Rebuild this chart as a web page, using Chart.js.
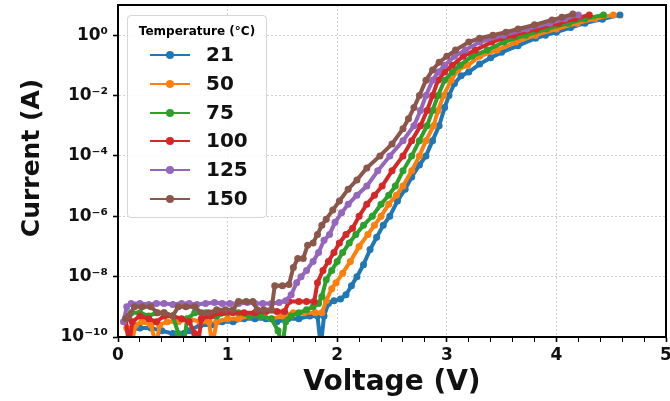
<!DOCTYPE html>
<html>
<head>
<meta charset="utf-8">
<script src="https://cdn.jsdelivr.net/npm/chart.js@4.4.0/dist/chart.umd.min.js"></script>
<style>
  html, body { margin: 0; padding: 0; background: #fff; }
  #wrap { position: relative; width: 670px; height: 401px; font-family: "DejaVu Sans", sans-serif; }
  #legend { position: absolute; left: 127px; top: 15px; width: 140px; height: 203px; border: 1px solid #d6d6d6;
            border-radius: 4px; background: rgba(255,255,255,0.85); box-sizing: border-box; }
  #legend .title { position: absolute; left: 0; width: 100%; top: 8px; text-align: center; font-weight: bold; font-size: 12px; }
  .row { position: absolute; left: 0; width: 100%; height: 20px; }
  .row .ln { position: absolute; left: 22px; width: 40px; top: 9px; height: 2px; }
  .row .dot { position: absolute; left: 38px; top: 6px; width: 8px; height: 8px; border-radius: 50%; }
  .row .lbl { position: absolute; left: 78px; top: -3px; font-weight: bold; font-size: 20px; color: #111; }
</style>
</head>
<body>
<div id="wrap">
  <canvas id="ivChart" width="670" height="401"></canvas>
  <div id="legend"><div class="title">Temperature (°C)</div></div>
</div>
<script>
'use strict';

const temperatures = ['21', '50', '75', '100', '125', '150'];
const colors = ['#1f77b4', '#ff7f0e', '#2ca02c', '#d62728', '#9467bd', '#8c564b'];

const yTickPowers = [-10, -8, -6, -4, -2, 0];

// voltage (V) and current (A), one pair per temperature
const volt21 = [0.1,0.2,0.3,0.4,0.5,0.55,0.6,0.65,0.75,0.85,0.95,1.05,1.15,1.25,1.35,1.45,1.55,1.65,1.75,1.82,1.85,1.88,1.92,1.97,2.03,2.08,2.13,2.18,2.24,2.3,2.36,2.42,2.48,2.55,2.62,2.68,2.75,2.81,2.87,2.93,2.98,3.02,3.07,3.13,3.2,3.3,3.4,3.5,3.65,3.81,3.9,4.0,4.13,4.26,4.42,4.58];
const curr21 = [1.6e-10,2e-10,2e-10,1.6e-10,1.3e-10,5e-11,1.3e-10,1.6e-10,2.5e-10,2.5e-10,3.2e-10,3.2e-10,4e-10,4e-10,4e-10,3.2e-10,4e-10,4e-10,5e-10,5e-10,5e-11,5e-10,1.3e-9,1.6e-9,1.8e-9,2.5e-9,5e-9,1e-8,2.5e-8,7.9e-8,2e-7,5e-7,1e-6,3.2e-6,7.9e-6,2e-5,5e-5,1e-4,3.2e-4,1e-3,4e-3,1e-2,2.5e-2,4.5e-2,6e-2,1.1e-1,1.8e-1,2.7e-1,4.5e-1,7.9e-1,1.0,1.26,1.8,2.5,3.4,4.7];

const volt50 = [0.08,0.12,0.16,0.22,0.3,0.35,0.38,0.45,0.55,0.65,0.75,0.83,0.86,0.9,1.0,1.1,1.2,1.3,1.4,1.5,1.6,1.7,1.8,1.86,1.9,1.95,1.99,2.05,2.12,2.2,2.28,2.34,2.4,2.47,2.54,2.6,2.68,2.75,2.81,2.88,2.92,2.97,3.04,3.1,3.19,3.3,3.46,3.63,3.81,4.0,4.19,4.35,4.52];
const curr50 = [2e-10,5e-11,2.5e-10,3.2e-10,2.5e-10,5e-11,2.5e-10,3.2e-10,3.2e-10,4e-10,3.2e-10,3.2e-10,5e-11,3.2e-10,4e-10,4e-10,5e-10,5e-10,4e-10,5e-10,6.3e-10,6.3e-10,6.3e-10,6.3e-10,1.6e-9,4e-9,6.3e-9,1.3e-8,3.2e-8,1e-7,2.5e-7,5e-7,1e-6,2.5e-6,5e-6,1e-5,3.2e-5,1e-4,3.2e-4,1e-3,3.2e-3,1e-2,3.2e-2,7e-2,1e-1,2e-1,3.2e-1,5.9e-1,1.0,1.6,2.5,3.5,4.7];

const volt75 = [0.08,0.12,0.2,0.28,0.35,0.42,0.5,0.55,0.6,0.63,0.7,0.8,0.9,1.0,1.1,1.2,1.3,1.4,1.46,1.5,1.53,1.58,1.65,1.72,1.78,1.83,1.86,1.9,1.95,2.0,2.05,2.11,2.17,2.24,2.32,2.4,2.47,2.53,2.6,2.68,2.75,2.82,2.87,2.92,2.98,3.05,3.12,3.23,3.37,3.52,3.72,3.91,4.11,4.26,4.43];
const curr75 = [4e-10,6.3e-10,6.3e-10,5e-10,6.3e-10,6.3e-10,5e-10,1.3e-10,5e-11,4e-10,6.3e-10,6.3e-10,5e-10,6.3e-10,6.3e-10,5e-10,5e-10,4e-10,1.6e-10,5e-11,3.2e-10,5e-10,6.3e-10,8e-10,1e-9,1.3e-9,2.2e-9,7.9e-9,1.6e-8,3.2e-8,6.3e-8,1.3e-7,2.5e-7,5e-7,1e-6,2.5e-6,5e-6,1e-5,3.2e-5,1e-4,3.2e-4,1e-3,3.2e-3,1e-2,3.2e-2,6e-2,1e-1,2e-1,3.2e-1,5.9e-1,1.0,1.6,2.5,3.5,4.7];

const volt100 = [0.07,0.1,0.13,0.2,0.28,0.35,0.42,0.5,0.58,0.65,0.7,0.73,0.76,0.85,0.95,1.05,1.15,1.25,1.35,1.45,1.52,1.56,1.65,1.72,1.79,1.82,1.87,1.92,1.97,2.02,2.08,2.14,2.2,2.27,2.34,2.41,2.5,2.6,2.68,2.76,2.82,2.87,2.92,2.98,3.05,3.15,3.26,3.41,3.61,3.82,4.02,4.17,4.3];
const curr100 = [4e-10,5e-11,3.2e-10,5e-10,4e-10,3.2e-10,5e-10,5e-10,4e-10,3.2e-10,1.3e-10,5e-11,4e-10,5e-10,6.3e-10,6.3e-10,6.3e-10,6.3e-10,7e-10,7e-10,7e-10,1.5e-9,1.5e-9,1.5e-9,1.5e-9,6.3e-9,1.6e-8,3.2e-8,6.3e-8,1.3e-7,2.5e-7,4e-7,1e-6,2.5e-6,5e-6,1e-5,3.2e-5,1e-4,3.2e-4,1e-3,3.2e-3,1e-2,3.2e-2,6e-2,1e-1,2e-1,3.2e-1,5.9e-1,1.0,1.6,2.5,3.5,4.7];

const volt125 = [0.05,0.08,0.12,0.2,0.28,0.35,0.42,0.5,0.58,0.65,0.72,0.8,0.88,0.95,1.02,1.1,1.18,1.25,1.32,1.4,1.47,1.53,1.58,1.63,1.67,1.72,1.78,1.83,1.88,1.93,1.98,2.04,2.1,2.18,2.27,2.37,2.48,2.6,2.7,2.76,2.81,2.87,2.92,2.98,3.07,3.17,3.3,3.52,3.73,3.94,4.08,4.2];
const curr125 = [3.2e-10,1e-9,1.3e-9,1.3e-9,1.2e-9,1.3e-9,1.3e-9,1.2e-9,1.3e-9,1.3e-9,1.2e-9,1.3e-9,1.4e-9,1.3e-9,1.3e-9,1.3e-9,1.4e-9,1.3e-9,1.3e-9,1.3e-9,1.4e-9,1.6e-9,2.5e-9,6.3e-9,1e-8,1.6e-8,3.2e-8,6.3e-8,1.6e-7,2.5e-7,6.3e-7,1.3e-6,2.5e-6,5e-6,1e-5,3.2e-5,1e-4,3.2e-4,1e-3,3.2e-3,1e-2,3.2e-2,6e-2,1e-1,2e-1,3.2e-1,5.9e-1,1.0,1.6,2.5,3.5,4.7];

const volt150 = [0.07,0.1,0.15,0.22,0.3,0.36,0.42,0.5,0.55,0.62,0.7,0.76,0.83,0.9,0.98,1.05,1.1,1.17,1.23,1.27,1.33,1.4,1.43,1.5,1.56,1.6,1.64,1.69,1.73,1.78,1.82,1.86,1.9,1.96,2.02,2.1,2.18,2.27,2.39,2.5,2.6,2.65,2.7,2.75,2.81,2.87,2.93,3.0,3.08,3.2,3.3,3.42,3.54,3.65,3.8,3.96,4.05,4.15];
const curr150 = [4e-10,5e-10,1e-9,1e-9,1e-9,6.3e-10,6.3e-10,5e-10,1e-9,1e-9,1e-9,6.3e-10,6.3e-10,8e-10,8e-10,8e-10,1.5e-9,1.5e-9,1.5e-9,8e-10,8e-10,8e-10,5e-9,5e-9,5.5e-9,2e-8,4e-8,4e-8,1.1e-7,1.3e-7,2.5e-7,5e-7,8e-7,1.6e-6,3.2e-6,7.9e-6,1.6e-5,4e-5,1e-4,2.5e-4,7.9e-4,1.7e-3,4e-3,1e-2,3.2e-2,7e-2,1.26e-1,2e-1,3.2e-1,5.9e-1,7.9e-1,1.0,1.26,1.6,2.2,3.2,3.9,5.0];

const voltages = [volt21, volt50, volt75, volt100, volt125, volt150];
const currents = [curr21, curr50, curr75, curr100, curr125, curr150];

const superDigits = {'-': '\u207b', '0': '\u2070', '1': '\u00b9', '2': '\u00b2', '3': '\u00b3', '4': '\u2074',
                     '5': '\u2075', '6': '\u2076', '7': '\u2077', '8': '\u2078', '9': '\u2079'};

function powerLabel(value) {
    const p = String(Math.round(Math.log10(value)));
    return '10' + p.split('').map(c => superDigits[c]).join('');
}

function isWhole(v) {
    return Math.abs(v - Math.round(v)) < 1e-6;
}

function buildDatasets() {
    return temperatures.map((t, i) => ({
        label: t,
        data: voltages[i].map((v, k) => ({x: v, y: currents[i][k]})),
        borderColor: colors[i],
        backgroundColor: colors[i],
        borderWidth: 4,
        pointRadius: 3.5,
        pointBorderWidth: 0,
        pointBackgroundColor: colors[i],
        tension: 0,
        clip: 0,
        order: temperatures.length - 1 - i
    }));
}

function buildLegend() {
    const box = document.getElementById('legend');
    temperatures.forEach((t, i) => {
        const row = document.createElement('div');
        row.className = 'row';
        row.style.top = (29 + i * 28.8) + 'px';
        row.innerHTML = `<div class="ln" style="background:${colors[i]}"></div>` +
            `<div class="dot" style="background:${colors[i]}"></div>` +
            `<div class="lbl">${t}</div>`;
        box.appendChild(row);
    });
}

// full black frame round the plot area
const framePlugin = {
    id: 'frame',
    afterDraw(chart) {
        const {ctx, chartArea: a} = chart;
        ctx.save();
        ctx.strokeStyle = '#000';
        ctx.lineWidth = 2;
        ctx.strokeRect(a.left, a.top, a.right - a.left, a.bottom - a.top);
        ctx.restore();
    }
};

const ctx = document.getElementById('ivChart').getContext('2d');
const chart = new Chart(ctx, {
    type: 'line',
    data: { datasets: buildDatasets() },
    options: {
        responsive: false,
        animation: false,
        layout: { padding: { top: 5, right: 2, left: 0, bottom: 0 } },
        plugins: { legend: { display: false }, tooltip: { enabled: false } },
        scales: {
            x: {
                type: 'linear',
                min: 0,
                max: 5,
                afterFit(scale) { scale.height = 64; scale.paddingLeft = 0; scale.paddingRight = 0; },
                ticks: {
                    stepSize: 0.2,
                    autoSkip: false,
                    maxRotation: 0,
                    padding: 3,
                    color: '#111',
                    font: { family: 'DejaVu Sans', weight: 'bold', size: 17 },
                    callback: (v) => isWhole(v) ? String(Math.round(v)) : ''
                },
                grid: {
                    color: (c) => (c.tick && isWhole(c.tick.value) && c.tick.value > 0 && c.tick.value < 5) ? '#cfcfcf' : 'rgba(0,0,0,0)',
                    lineWidth: 1,
                    tickColor: '#000',
                    tickLength: 5,
                    tickWidth: (c) => (c.tick && isWhole(c.tick.value)) ? 1.6 : 1
                },
                border: { display: true, color: '#000', width: 2, dash: [2, 2] },
                title: {
                    display: true,
                    text: 'Voltage (V)',
                    color: '#111',
                    font: { family: 'DejaVu Sans', weight: 'bold', size: 28 },
                    padding: { top: 0, bottom: 1 }
                }
            },
            y: {
                type: 'logarithmic',
                min: 1e-10,
                max: 10,
                afterFit(scale) { scale.width = 118; scale.paddingTop = 0; scale.paddingBottom = 0; },
                afterBuildTicks(scale) { scale.ticks = yTickPowers.map(p => ({ value: Math.pow(10, p) })); },
                ticks: {
                    padding: 5,
                    color: '#111',
                    font: { family: 'DejaVu Sans', weight: 'bold', size: 17 },
                    callback: (v) => powerLabel(v)
                },
                grid: {
                    color: '#cfcfcf',
                    lineWidth: 1,
                    tickColor: '#000',
                    tickLength: 5,
                    tickWidth: 1.6
                },
                border: { display: true, color: '#000', width: 2, dash: [2, 2] },
                title: {
                    display: true,
                    text: '   Current (A)',
                    color: '#111',
                    font: { family: 'DejaVu Sans', weight: 'bold', size: 25 },
                    padding: { top: 17, bottom: 0 }
                }
            }
        }
    },
    plugins: [framePlugin]
});

buildLegend();
</script>
</body>
</html>
